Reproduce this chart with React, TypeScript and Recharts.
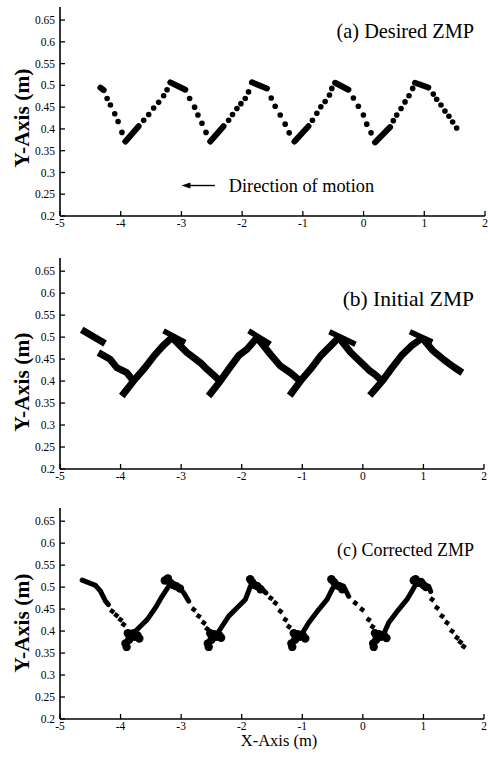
import React from 'react';
import { ScatterChart, Scatter, XAxis, YAxis, ReferenceLine } from 'recharts';

const FONT = '"Liberation Serif", "Times New Roman", Times, serif';

// ---- axes ----
const xTicks = [-5, -4, -3, -2, -1, 0, 1, 2];
const xTickLabels = ['-5', '-4', '-3', '-2', '-1', '0', '1', '2'];
const yTicks = [0.2, 0.25, 0.3, 0.35, 0.4, 0.45, 0.5, 0.55, 0.6, 0.65];
const yTickLabels = ['0.2', '0.25', '0.3', '0.35', '0.4', '0.45', '0.5', '0.55', '0.6', '0.65'];
const xDomain = [-5, 2];
const yDomain = [0.2, 0.68];

// ---- text ----
const titleA = '(a) Desired ZMP';
const titleB = '(b) Initial ZMP';
const titleC = '(c) Corrected ZMP';
const yLabel = 'Y-Axis (m)';
const xLabel = 'X-Axis (m)';
const directionText = 'Direction of motion';
const directionArrow = [{ x: -3.0, y: 0.27 }, { x: -2.45, y: 0.27 }];

// ---- (a) Desired ZMP: separate dots ----
const aDots = [
  { x: -4.224, y: 0.47 }, { x: -4.17, y: 0.455 }, { x: -4.098, y: 0.435 }, { x: -4.043, y: 0.417 }, { x: -3.98, y: 0.392 },
  { x: -3.622, y: 0.42 }, { x: -3.539, y: 0.433 }, { x: -3.457, y: 0.448 }, { x: -3.375, y: 0.461 }, { x: -3.293, y: 0.476 }, { x: -3.237, y: 0.49 },
  { x: -2.865, y: 0.47 }, { x: -2.783, y: 0.45 }, { x: -2.728, y: 0.432 }, { x: -2.662, y: 0.413 }, { x: -2.595, y: 0.392 },
  { x: -2.223, y: 0.42 }, { x: -2.158, y: 0.433 }, { x: -2.086, y: 0.447 }, { x: -2.02, y: 0.458 }, { x: -1.949, y: 0.47 }, { x: -1.895, y: 0.485 },
  { x: -1.521, y: 0.471 }, { x: -1.456, y: 0.452 }, { x: -1.373, y: 0.432 }, { x: -1.291, y: 0.411 }, { x: -1.225, y: 0.391 },
  { x: -0.842, y: 0.42 }, { x: -0.77, y: 0.436 }, { x: -0.704, y: 0.451 }, { x: -0.633, y: 0.463 }, { x: -0.562, y: 0.478 }, { x: -0.523, y: 0.493 },
  { x: -0.168, y: 0.471 }, { x: -0.086, y: 0.452 }, { x: -0.003, y: 0.432 }, { x: 0.052, y: 0.411 }, { x: 0.123, y: 0.391 },
  { x: 0.49, y: 0.419 }, { x: 0.546, y: 0.432 }, { x: 0.617, y: 0.447 }, { x: 0.683, y: 0.462 }, { x: 0.748, y: 0.476 }, { x: 0.809, y: 0.493 },
  { x: 1.148, y: 0.48 }, { x: 1.204, y: 0.468 }, { x: 1.275, y: 0.455 }, { x: 1.34, y: 0.441 }, { x: 1.406, y: 0.429 }, { x: 1.467, y: 0.416 }, { x: 1.533, y: 0.402 },
];
// ---- (a) dense runs of dots ----
const aRuns = [
  [{ x: -4.334, y: 0.495 }, { x: -4.28, y: 0.489 }],
  [{ x: -3.923, y: 0.371 }, { x: -3.704, y: 0.406 }],
  [{ x: -3.183, y: 0.507 }, { x: -2.936, y: 0.49 }],
  [{ x: -2.525, y: 0.371 }, { x: -2.306, y: 0.406 }],
  [{ x: -1.839, y: 0.507 }, { x: -1.592, y: 0.493 }],
  [{ x: -1.138, y: 0.371 }, { x: -0.908, y: 0.406 }],
  [{ x: -0.469, y: 0.506 }, { x: -0.25, y: 0.49 }],
  [{ x: 0.189, y: 0.369 }, { x: 0.436, y: 0.404 }],
  [{ x: 0.847, y: 0.506 }, { x: 1.066, y: 0.495 }],
];

// ---- (b) Initial ZMP: stroke segments ----
const bStrokes = [
  [{ x: -4.642, y: 0.5166 }, { x: -4.256, y: 0.4854 }],
  [{ x: -4.366, y: 0.4648 }, { x: -4.173, y: 0.4496 }, { x: -4.063, y: 0.4306 }, { x: -3.897, y: 0.4192 }, { x: -3.787, y: 0.4 }],
  [{ x: -3.98, y: 0.366 }, { x: -3.787, y: 0.4 }, { x: -3.6, y: 0.43 }, { x: -3.45, y: 0.457 }, { x: -3.3, y: 0.48 }, { x: -3.153, y: 0.499 }],
  [{ x: -3.153, y: 0.499 }, { x: -2.905, y: 0.465 }, { x: -2.685, y: 0.442 }, { x: -2.574, y: 0.427 }, { x: -2.354, y: 0.4 }],
  [{ x: -2.547, y: 0.366 }, { x: -2.354, y: 0.4 }, { x: -2.2, y: 0.43 }, { x: -2.05, y: 0.458 }, { x: -1.913, y: 0.4725 }, { x: -1.747, y: 0.499 }],
  [{ x: -1.747, y: 0.499 }, { x: -1.527, y: 0.461 }, { x: -1.362, y: 0.4344 }, { x: -1.197, y: 0.419 }, { x: -1.031, y: 0.4 }],
  [{ x: -1.208, y: 0.367 }, { x: -1.031, y: 0.4 }, { x: -0.866, y: 0.4268 }, { x: -0.7, y: 0.457 }, { x: -0.535, y: 0.48 }, { x: -0.398, y: 0.499 }],
  [{ x: -0.398, y: 0.499 }, { x: -0.2, y: 0.465 }, { x: -0.05, y: 0.445 }, { x: 0.1, y: 0.425 }, { x: 0.2, y: 0.415 }, { x: 0.32, y: 0.4 }],
  [{ x: 0.115, y: 0.367 }, { x: 0.32, y: 0.4 }, { x: 0.48, y: 0.43 }, { x: 0.65, y: 0.46 }, { x: 0.8, y: 0.48 }, { x: 0.981, y: 0.498 }],
  [{ x: 0.981, y: 0.498 }, { x: 1.15, y: 0.47 }, { x: 1.35, y: 0.447 }, { x: 1.5, y: 0.432 }, { x: 1.643, y: 0.419 }],
];
const bCross = [
  [{ x: -3.291, y: 0.5143 }, { x: -2.933, y: 0.4877 }],
  [{ x: -1.885, y: 0.5143 }, { x: -1.527, y: 0.4839 }],
  [{ x: -0.552, y: 0.512 }, { x: -0.122, y: 0.484 }],
  [{ x: 0.776, y: 0.512 }, { x: 1.147, y: 0.489 }],
];

// ---- (c) Corrected ZMP ----
const cPaths = [
  [{ x: -4.634, y: 0.516 }, { x: -4.414, y: 0.504 }, { x: -4.332, y: 0.491 }, { x: -4.249, y: 0.468 }, { x: -4.2, y: 0.46 }],
  [{ x: -3.9, y: 0.395 }, { x: -3.75, y: 0.4 }, { x: -3.68, y: 0.41 }, { x: -3.561, y: 0.426 }, { x: -3.424, y: 0.453 }, { x: -3.314, y: 0.479 }, { x: -3.204, y: 0.502 }, { x: -3.15, y: 0.508 }, { x: -3.05, y: 0.502 }, { x: -2.957, y: 0.487 }, { x: -2.875, y: 0.468 }],
  [{ x: -2.52, y: 0.395 }, { x: -2.4, y: 0.395 }, { x: -2.324, y: 0.411 }, { x: -2.214, y: 0.434 }, { x: -2.076, y: 0.453 }, { x: -1.939, y: 0.472 }, { x: -1.856, y: 0.502 }, { x: -1.8, y: 0.508 }, { x: -1.7, y: 0.5 }, { x: -1.6, y: 0.487 }],
  [{ x: -1.15, y: 0.395 }, { x: -1.0, y: 0.395 }, { x: -0.894, y: 0.419 }, { x: -0.729, y: 0.449 }, { x: -0.59, y: 0.472 }, { x: -0.508, y: 0.495 }, { x: -0.45, y: 0.508 }, { x: -0.317, y: 0.502 }, { x: -0.234, y: 0.479 }],
  [{ x: 0.2, y: 0.395 }, { x: 0.35, y: 0.395 }, { x: 0.426, y: 0.419 }, { x: 0.591, y: 0.449 }, { x: 0.729, y: 0.472 }, { x: 0.812, y: 0.491 }, { x: 0.88, y: 0.508 }, { x: 0.949, y: 0.506 }, { x: 1.086, y: 0.502 }, { x: 1.12, y: 0.49 }],
];
const cDots = [
  { x: -4.139, y: 0.445 }, { x: -4.07, y: 0.436 }, { x: -4.002, y: 0.426 }, { x: -3.95, y: 0.415 },
  { x: -2.792, y: 0.449 }, { x: -2.71, y: 0.434 }, { x: -2.627, y: 0.419 }, { x: -2.57, y: 0.405 },
  { x: -1.52, y: 0.475 }, { x: -1.444, y: 0.464 }, { x: -1.361, y: 0.445 }, { x: -1.279, y: 0.426 }, { x: -1.22, y: 0.41 },
  { x: -0.124, y: 0.464 }, { x: -0.013, y: 0.449 }, { x: 0.096, y: 0.426 }, { x: 0.16, y: 0.41 },
  { x: 1.142, y: 0.472 }, { x: 1.224, y: 0.453 }, { x: 1.307, y: 0.434 }, { x: 1.389, y: 0.419 }, { x: 1.472, y: 0.4 }, { x: 1.554, y: 0.385 }, { x: 1.61, y: 0.375 }, { x: 1.664, y: 0.365 },
];
const cBlobs = [
  { x: -3.92, y: 0.372 }, { x: -3.9, y: 0.364 }, { x: -3.86, y: 0.38 }, { x: -3.82, y: 0.393 }, { x: -3.77, y: 0.387 }, { x: -3.72, y: 0.39 }, { x: -3.69, y: 0.383 }, { x: -3.88, y: 0.395 },
  { x: -2.56, y: 0.372 }, { x: -2.545, y: 0.364 }, { x: -2.5, y: 0.38 }, { x: -2.46, y: 0.393 }, { x: -2.42, y: 0.387 }, { x: -2.37, y: 0.39 }, { x: -2.34, y: 0.385 }, { x: -2.52, y: 0.395 },
  { x: -1.18, y: 0.372 }, { x: -1.165, y: 0.364 }, { x: -1.12, y: 0.38 }, { x: -1.08, y: 0.393 }, { x: -1.04, y: 0.387 }, { x: -0.99, y: 0.39 }, { x: -0.95, y: 0.383 }, { x: -1.14, y: 0.395 },
  { x: 0.17, y: 0.372 }, { x: 0.18, y: 0.364 }, { x: 0.22, y: 0.38 }, { x: 0.26, y: 0.393 }, { x: 0.3, y: 0.387 }, { x: 0.35, y: 0.39 }, { x: 0.39, y: 0.384 }, { x: 0.2, y: 0.395 },
  { x: -3.27, y: 0.515 }, { x: -3.22, y: 0.52 }, { x: -3.18, y: 0.51 }, { x: -3.13, y: 0.505 }, { x: -3.08, y: 0.502 }, { x: -3.02, y: 0.497 },
  { x: -1.86, y: 0.518 }, { x: -1.83, y: 0.512 }, { x: -1.79, y: 0.505 }, { x: -1.74, y: 0.502 }, { x: -1.69, y: 0.495 },
  { x: -0.52, y: 0.518 }, { x: -0.48, y: 0.512 }, { x: -0.44, y: 0.505 }, { x: -0.39, y: 0.502 }, { x: -0.34, y: 0.495 },
  { x: 0.84, y: 0.515 }, { x: 0.87, y: 0.518 }, { x: 0.91, y: 0.51 }, { x: 0.96, y: 0.512 }, { x: 1.0, y: 0.505 }, { x: 1.04, y: 0.5 },
];

const fmtX = (v: number) => xTickLabels[xTicks.indexOf(v)] ?? String(v);
const fmtY = (v: number) => yTickLabels[yTicks.indexOf(v)] ?? String(v);
const blank = () => '';

const AX = { stroke: '#000', strokeWidth: 1.6 };
const TL = { stroke: '#000', strokeWidth: 1.3 };
const TICK = { fontSize: 11.5, fill: '#000', fontFamily: FONT };

function axes() {
  return [
    <XAxis key="xb" xAxisId="b" type="number" dataKey="x" domain={xDomain} ticks={xTicks} tickFormatter={fmtX}
      orientation="bottom" height={20} tickSize={-5} tickMargin={8} interval={0} allowDataOverflow
      axisLine={AX} tickLine={TL} tick={TICK} />,
    <XAxis key="xt" xAxisId="t" type="number" dataKey="x" domain={xDomain} ticks={xTicks} tickFormatter={blank}
      orientation="top" height={0} tickSize={-5} tickMargin={0} interval={0} allowDataOverflow
      axisLine={AX} tickLine={TL} tick={TICK} />,
    <YAxis key="yl" yAxisId="l" type="number" dataKey="y" domain={yDomain} ticks={yTicks} tickFormatter={fmtY}
      orientation="left" width={60} tickSize={-5} tickMargin={10} interval={0} allowDataOverflow
      axisLine={AX} tickLine={TL} tick={TICK} />,
    <YAxis key="yr" yAxisId="r" type="number" dataKey="y" domain={yDomain} ticks={yTicks} tickFormatter={blank}
      orientation="right" width={0} tickSize={-5} tickMargin={0} interval={0} allowDataOverflow
      axisLine={AX} tickLine={TL} tick={TICK} />,
  ];
}

const dotShape = (r: number) => (p: any) => <circle cx={p.cx} cy={p.cy} r={r} fill="#000" />;
const squareShape = (s: number) => (p: any) => (
  <rect x={p.cx - s / 2} y={p.cy - s / 2} width={s} height={s} fill="#000" transform={`rotate(35 ${p.cx} ${p.cy})`} />
);
const noShape = () => <g />;

function strokeSeries(list: { x: number; y: number }[][], width: number, cap: string, prefix: string) {
  return list.map((seg, i) => (
    <Scatter key={prefix + i} data={seg} xAxisId="b" yAxisId="l" fill="#000" shape={noShape}
      line={{ stroke: '#000', strokeWidth: width, strokeLinecap: cap, strokeLinejoin: 'round' }}
      isAnimationActive={false} />
  ));
}

const arrowShape = (p: any) => {
  const { x1, y1, x2, y2 } = p;
  const left = Math.min(x1, x2);
  const right = Math.max(x1, x2);
  return (
    <g>
      <line x1={left + 6} y1={y1} x2={right} y2={y2} stroke="#000" strokeWidth={1.4} />
      <polygon points={`${left},${y1} ${left + 9},${y1 - 3} ${left + 9},${y1 + 3}`} fill="#000" />
      <text x={right + 14} y={y1 + 6.5} fontFamily={FONT} fontSize={18.3} fill="#000">{directionText}</text>
    </g>
  );
};

function YLabel({ cy }: { cy: number }) {
  return (
    <text x={22} y={cy} transform={`rotate(-90 22 ${cy})`} textAnchor="middle" dominantBaseline="central"
      fontFamily={FONT} fontWeight="bold" fontSize={21.5} fill="#000">{yLabel}</text>
  );
}

function Title({ text, y, size }: { text: string; y: number; size: number }) {
  return (
    <text x={474} y={y} textAnchor="end" fontFamily={FONT} fontSize={size} fill="#000">{text}</text>
  );
}

export default function App() {
  return (
    <div style={{ position: 'absolute', left: 0, top: 0, width: 488, height: 760, background: '#fff', overflow: 'hidden' }}>
      <div style={{ position: 'absolute', left: 0, top: 0 }}>
        <ScatterChart width={488} height={240} margin={{ top: 7, right: 3, bottom: 4, left: 0 }}>
          {axes()}
          {strokeSeries(aRuns, 6, 'round', 'ar')}
          <Scatter data={aDots} xAxisId="b" yAxisId="l" fill="#000" shape={dotShape(2.8)} isAnimationActive={false} />
          <ReferenceLine xAxisId="b" yAxisId="l" segment={directionArrow} shape={arrowShape} ifOverflow="visible" />
          <Title text={titleA} y={38} size={20.3} />
          <YLabel cy={118} />
        </ScatterChart>
      </div>
      <div style={{ position: 'absolute', left: 0, top: 253 }}>
        <ScatterChart width={488} height={240} margin={{ top: 5, right: 4, bottom: 4, left: 0 }}>
          {axes()}
          {strokeSeries(bStrokes, 7, 'butt', 'bs')}
          {strokeSeries(bCross, 5.5, 'butt', 'bc')}
          <Title text={titleB} y={53} size={21.5} />
          <YLabel cy={129} />
        </ScatterChart>
      </div>
      <div style={{ position: 'absolute', left: 0, top: 503 }}>
        <ScatterChart width={488} height={257} margin={{ top: 5, right: 4, bottom: 21, left: 0 }}>
          {axes()}
          {strokeSeries(cPaths, 5, 'round', 'cp')}
          <Scatter data={cDots} xAxisId="b" yAxisId="l" fill="#000" shape={squareShape(4.6)} isAnimationActive={false} />
          <Scatter data={cBlobs} xAxisId="b" yAxisId="l" fill="#000" shape={dotShape(4.2)} isAnimationActive={false} />
          <Title text={titleC} y={53} size={18} />
          <YLabel cy={120} />
          <text x={279} y={243} textAnchor="middle" fontFamily={FONT} fontSize={16.5} fill="#000">{xLabel}</text>
        </ScatterChart>
      </div>
    </div>
  );
}
